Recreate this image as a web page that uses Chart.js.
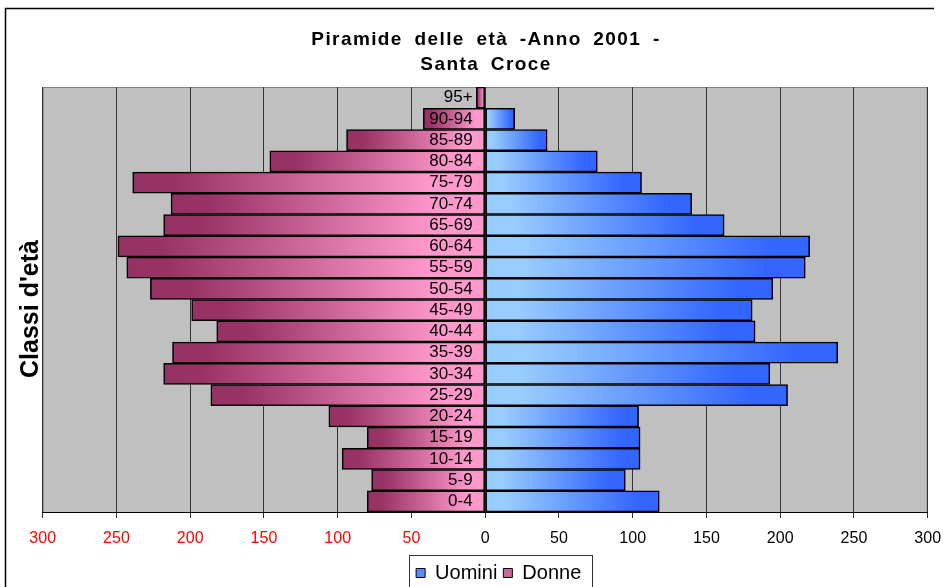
<!DOCTYPE html>
<html>
<head>
<meta charset="utf-8">
<script src="https://cdn.jsdelivr.net/npm/chart.js@4.4.1/dist/chart.umd.min.js"></script>
<style>
  html, body { margin: 0; padding: 0; background: #fff; }
</style>
</head>
<body>
<canvas id="pyramid" width="943" height="587"></canvas>
<script>
// age classes, bottom to top
const ageClasses = ["0-4", "5-9", "10-14", "15-19", "20-24", "25-29", "30-34", "35-39", "40-44", "45-49",
                    "50-54", "55-59", "60-64", "65-69", "70-74", "75-79", "80-84", "85-89", "90-94", "95+"];
const uomini = [118, 95, 105, 105, 104, 205, 193, 239, 183, 181, 195, 217, 220, 162, 140, 106, 76, 42, 20, 0];
const donne  = [80, 77, 97, 80, 106, 186, 218, 212, 182, 199, 227, 243, 249, 218, 213, 239, 146, 94, 42, 6];
const xTickValues = [-300, -250, -200, -150, -100, -50, 0, 50, 100, 150, 200, 250, 300];

const FONT = '"Liberation Sans", Arial, sans-serif';

// one gradient per bar, from the zero line out to the end of the bar
function barGradient(stops) {
    return function (c) {
        const chart = c.chart;
        if (!chart.chartArea || c.type !== 'data') return stops[stops.length - 1][1];
        const x = chart.scales.x;
        const x0 = x.getPixelForValue(0);
        const x1 = x.getPixelForValue(c.raw);
        if (x0 === x1) return stops[0][1];
        const g = chart.ctx.createLinearGradient(x0, 0, x1, 0);
        stops.forEach(s => g.addColorStop(s[0], s[1]));
        return g;
    };
}

const frame = {
    id: 'frame',
    beforeDraw(chart) {
        const ctx = chart.ctx;
        const a = chart.chartArea;
        ctx.save();
        ctx.fillStyle = '#fff';
        ctx.fillRect(0, 0, chart.width, chart.height);
        // outer border
        ctx.strokeStyle = '#000';
        ctx.lineWidth = 1.5;
        ctx.beginPath();
        ctx.moveTo(5.5, chart.height + 2);
        ctx.lineTo(5.5, 8.5);
        ctx.lineTo(934, 8.5);
        ctx.stroke();
        // plot area
        ctx.fillStyle = '#c0c0c0';
        ctx.fillRect(a.left, a.top, a.right - a.left, a.bottom - a.top);
        ctx.strokeStyle = '#808080';
        ctx.lineWidth = 1;
        ctx.strokeRect(a.left + 0.5, a.top + 0.5, a.right - a.left - 1, a.bottom - a.top);
        ctx.restore();
    },
    afterLayout(chart) {
        // legend sits a bit right of centre in the original
        chart.legend.left += 13.5;
        chart.legend.right += 13.5;
    },
    afterDraw(chart) {
        const ctx = chart.ctx;
        ctx.save();
        // title
        ctx.fillStyle = '#000';
        ctx.textBaseline = 'alphabetic';
        ctx.font = 'bold 19px ' + FONT;
        ctx.textAlign = 'center';
        ctx.letterSpacing = '1.4px';
        ctx.wordSpacing = '5px';
        ctx.fillText('Piramide delle età -Anno 2001 -', 486, 44.5);
        ctx.fillText('Santa Croce', 486, 70);
        ctx.letterSpacing = '0px';
        ctx.wordSpacing = '0px';
        // y title
        ctx.font = 'bold 25px ' + FONT;
        ctx.translate(38, 309);
        ctx.rotate(-Math.PI / 2);
        ctx.fillText("Classi d'età", 0, 0);
        ctx.restore();

        // box round the legend
        const hb = chart.legend.legendHitBoxes;
        if (hb && hb.length) {
            const left = Math.min(...hb.map(h => h.left)) - 7;
            const right = Math.max(...hb.map(h => h.left + h.width)) + 11;
            const top = chart.legend.top - 2;
            ctx.save();
            ctx.strokeStyle = '#333';
            ctx.lineWidth = 1;
            ctx.strokeRect(Math.round(left) + 0.5, Math.round(top) + 0.5, Math.round(right - left), 40);
            ctx.restore();
        }
    }
};

new Chart(document.getElementById('pyramid'), {
    type: 'bar',
    data: {
        labels: ageClasses,
        datasets: [
            {
                label: 'Uomini',
                data: uomini,
                backgroundColor: barGradient([[0, '#99ccff'], [0.12, '#99ccff'], [0.88, '#3366ff'], [1, '#3366ff']]),
                borderColor: '#000',
                borderWidth: 1.6,
                borderSkipped: false
            },
            {
                label: 'Donne',
                data: donne.map(v => -v),
                backgroundColor: barGradient([[0, '#ff99cc'], [0.15, '#ff99cc'], [0.88, '#993366'], [1, '#963163']]),
                borderColor: '#000',
                borderWidth: 1.6,
                borderSkipped: false
            }
        ]
    },
    options: {
        indexAxis: 'y',
        responsive: false,
        animation: false,
        barPercentage: 1,
        categoryPercentage: 1,
        layout: { padding: { top: 87, left: 42.7, right: 15.3, bottom: 0 } },
        scales: {
            x: {
                stacked: true,
                min: -300,
                max: 300,
                afterBuildTicks: axis => { axis.ticks = xTickValues.map(v => ({ value: v })); },
                afterFit: axis => {
                    axis.height = 45;
                    // the end labels may run into the margin, as in the original
                    axis.paddingLeft = 0;
                    axis.paddingRight = 0;
                },
                grid: { color: '#333', lineWidth: 1, tickLength: 6, tickColor: '#333' },
                border: { color: '#000', width: 1 },
                ticks: {
                    padding: 10.6,
                    font: { family: FONT, size: 16 },
                    color: c => (c.tick && c.tick.value < 0 ? '#ff0000' : '#000'),
                    callback: v => Math.abs(v)
                }
            },
            y: {
                stacked: true,
                reverse: true,
                position: { x: -8.5 },
                grid: { display: false },
                border: { display: false },
                ticks: {
                    z: 1,
                    autoSkip: false,
                    font: { family: FONT, size: 17 },
                    color: '#000'
                }
            }
        },
        plugins: {
            title: { display: false },
            tooltip: { enabled: false },
            legend: {
                position: 'bottom',
                maxHeight: 30,
                labels: {
                    boxWidth: 9,
                    boxHeight: 9,
                    padding: 6,
                    color: '#000',
                    font: { family: FONT, size: 20 },
                    generateLabels: chart => chart.data.datasets.map((ds, i) => ({
                        text: ds.label,
                        fillStyle: i === 0 ? '#5b8dff' : '#cc6699',
                        strokeStyle: '#000',
                        lineWidth: 1,
                        hidden: false,
                        datasetIndex: i,
                        fontColor: '#000'
                    }))
                }
            }
        }
    },
    plugins: [frame]
});
</script>
</body>
</html>
